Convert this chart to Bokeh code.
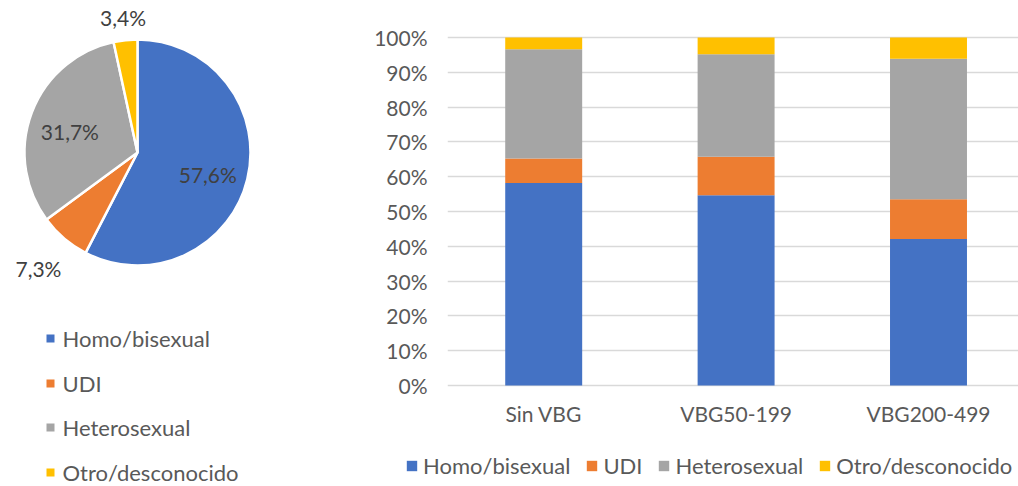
import numpy as np
from bokeh.plotting import figure
from bokeh.layouts import row, column
from bokeh.models import (Range1d, FixedTicker, NumeralTickFormatter,
                          Legend, LegendItem, ColumnDataSource)
from bokeh.core.properties import value
from bokeh.embed import file_html
from bokeh.resources import INLINE

# Transmission groups and their colours
groups = ["Homo/bisexual", "UDI", "Heterosexual", "Otro/desconocido"]
colors = ["#4472C4", "#ED7D31", "#A5A5A5", "#FFC000"]

# Overall distribution (%)
pie_pct = [57.6, 7.3, 31.7, 3.4]

# Distribution by viral load group (%)
categories = ["Sin VBG", "VBG50-199", "VBG200-499"]
homo = [58.2, 54.7, 42.1]
udi = [7.0, 11.0, 11.4]
hetero = [31.4, 29.5, 40.4]
otro = [3.4, 4.8, 6.1]

FONT = "Lato"
TXT = "#595959"
H = 486

# ---------------- Pie (left panel, pixel-like coordinates) ----------------
PW = 370
pie = figure(width=PW, height=H, x_range=Range1d(0, PW), y_range=Range1d(0, H),
             output_backend="svg", toolbar_location=None, min_border=0)
pie.axis.visible = False
pie.grid.visible = False
pie.outline_line_color = None

cx, cy, r = 137, H - 152, 113
frac = np.array(pie_pct) / sum(pie_pct)
cum = np.concatenate([[0], np.cumsum(frac)])
starts = np.pi / 2 - 2 * np.pi * cum[:-1]
ends = np.pi / 2 - 2 * np.pi * cum[1:]
pie.wedge(x=cx, y=cy, radius=r, start_angle=starts, end_angle=ends, direction="clock",
          fill_color=colors, line_color="white", line_width=2.5)

mids = (starts + ends) / 2
lx, ly, labels = [], [], []
for f, a, v in zip(frac, mids, pie_pct):
    if f > 0.15:
        d = 0.64 * r
    else:
        d = r + 20 + 30 * abs(np.cos(a))
    lx.append(cx + d * np.cos(a))
    ly.append(cy + d * np.sin(a) - (5 if f > 0.15 else 0))
    labels.append(f"{v:.1f}".replace(".", ",") + "%")
pie.text(x=lx, y=ly, text=labels, text_align="center", text_baseline="middle",
         text_font=value(FONT), text_font_size="21px", text_color="#404040")

# vertical legend under the pie
leg_y = [H - 338, H - 383, H - 427, H - 472]
pie.scatter(x=[50] * 4, y=leg_y, marker="square", size=8, fill_color=colors, line_color=None)
pie.text(x=[62] * 4, y=leg_y, text=groups, text_align="left", text_baseline="middle",
         text_font=value(FONT), text_font_size="22px", text_color=TXT)

# ---------------- Stacked bars (right panel) ----------------
BW = 1018 - PW
BH = 450          # bar panel height; the legend strip sits below it
LH = H - BH
unit = 385 - 37   # px per 100 %
y0 = -(BH - 385) / unit
y1 = 1 + 37 / unit
xpos = [i + 0.5 for i in range(len(categories))]
src = ColumnDataSource(dict(x=xpos, cat=categories,
                            h=[v / 100 for v in homo], u=[v / 100 for v in udi],
                            t=[v / 100 for v in hetero], o=[v / 100 for v in otro]))
left = 77
band = 192.4
bars = figure(width=BW, height=BH, x_range=Range1d(0, (BW - left) / band),
              y_range=Range1d(y0, y1), output_backend="svg", toolbar_location=None,
              min_border_left=left, min_border_right=0, min_border_top=0,
              min_border_bottom=0)
bars.vbar_stack(["h", "u", "t", "o"], x="x", width=0.4, source=src,
                color=colors, line_color=None)
bars.outline_line_color = None
bars.xaxis.visible = False
bars.xgrid.visible = False
bars.ygrid.grid_line_color = "#D9D9D9"
bars.ygrid.grid_line_width = 1.3
bars.yaxis.ticker = FixedTicker(ticks=[i / 10 for i in range(11)])
bars.yaxis.formatter = NumeralTickFormatter(format="0%")
bars.yaxis.axis_line_color = None
bars.yaxis.major_tick_line_color = None
bars.yaxis.minor_tick_line_color = None
bars.yaxis.major_label_standoff = 14
bars.yaxis.major_label_text_font = FONT
bars.yaxis.major_label_text_font_size = "21px"
bars.yaxis.major_label_text_color = TXT

# category labels under the bars
bars.text(x="x", y=-(413 - 385) / unit, text="cat", source=src, text_align="center",
          text_baseline="middle", text_font=value(FONT), text_font_size="21px",
          text_color=TXT)

# legend strip: the same stacked series, kept above the visible range so only the key shows
strip = figure(width=BW, height=LH, x_range=Range1d(0, BW), y_range=Range1d(5, 6),
               output_backend="svg", toolbar_location=None, min_border=0)
strip.axis.visible = False
strip.grid.visible = False
strip.outline_line_color = None
rs = strip.vbar_stack(["h", "u", "t", "o"], x="x", width=0.4, source=src,
                      color=colors, line_color=None)
legend = Legend(items=[LegendItem(label=g, renderers=[rr]) for g, rr in zip(groups, rs)],
                orientation="horizontal", location=(405 - PW, H - 479),
                glyph_width=13, glyph_height=13, label_standoff=5, spacing=15,
                padding=0, margin=0, border_line_color=None, background_fill_alpha=0,
                label_text_font=FONT, label_text_font_size="22px", label_text_color=TXT,
                label_height=22)
strip.add_layout(legend, "center")

layout = row(pie, column(bars, row(strip)))
open("out.html", "w").write(file_html(layout, INLINE))
